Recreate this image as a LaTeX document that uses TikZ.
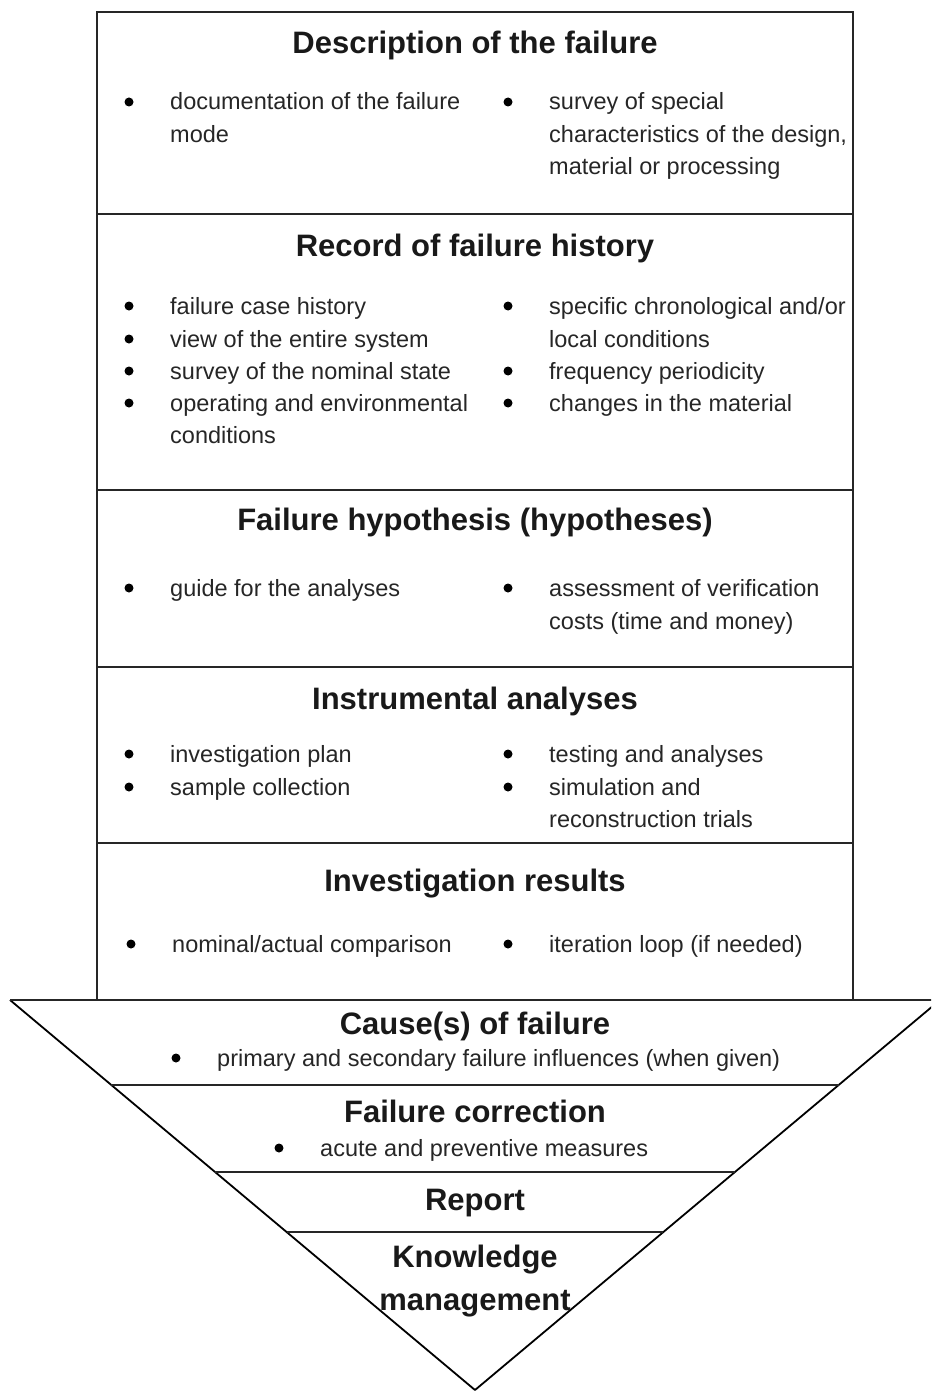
\documentclass[tikz,border=0pt]{standalone}
\usepackage{fontspec}
\setmainfont{Liberation Sans}
\usetikzlibrary{calc}

% bullet line: #1 name, #2 x, #3 baseline y, #4 text
\newcommand\bitem[4]{%
  \node[body] (#1) at (#2,#3) {#4};
  \node[dot] (#1-dot) at ([xshift=-41pt,yshift=8pt]#1.base west) {};}
% continuation line of a bullet item
\newcommand\bcont[4]{\node[body] (#1) at (#2,#3) {#4};}

\begin{document}
\begin{tikzpicture}[x=1pt,y=-1pt,
  frame/.style={line width=2.8pt, draw=black!85},
  funnel/.style={line width=1.8pt, draw=black, line join=round},
  title/.style={font=\fontsize{31}{36}\selectfont\bfseries, anchor=base, inner sep=0, text=black!90},
  body/.style={font=\fontsize{23.5}{32}\selectfont, anchor=base west, inner sep=0, text=black!85},
  dot/.style={circle, fill=black, inner sep=0, minimum size=9pt},
]
\useasboundingbox (0,0) rectangle (931,1391);
\clip (0,0) rectangle (931,1391);

% ---------- upper box ----------
\draw[frame] (97,12) rectangle (853,1000);
\foreach \yy in {214,490,667,843} \draw[frame] (97,\yy) -- (853,\yy);

% Description of the failure
\node[title] (t1) at (475,54) {Description of the failure};
\bitem{d1}{170}{110}{documentation of the failure}
\bcont{d1b}{170}{143}{mode}
\bitem{d2}{549}{110}{survey of special}
\bcont{d2b}{549}{143}{characteristics of the design,}
\bcont{d2c}{549}{175}{material or processing}

% Record of failure history
\node[title] (t2) at (475,256) {Record of failure history};
\bitem{r1}{170}{314}{failure case history}
\bitem{r2}{170}{347}{view of the entire system}
\bitem{r3}{170}{379}{survey of the nominal state}
\bitem{r4}{170}{411}{operating and environmental}
\bcont{r4b}{170}{443}{conditions}
\bitem{r5}{549}{314}{specific chronological and/or}
\bcont{r5b}{549}{347}{local conditions}
\bitem{r6}{549}{379}{frequency periodicity}
\bitem{r7}{549}{411}{changes in the material}

% Failure hypothesis
\node[title] (t3) at (475,530) {Failure hypothesis (hypotheses)};
\bitem{h1}{170}{596}{guide for the analyses}
\bitem{h2}{549}{596}{assessment of verification}
\bcont{h2b}{549}{629}{costs (time and money)}

% Instrumental analyses
\node[title] (t4) at (475,709) {Instrumental analyses};
\bitem{i1}{170}{762}{investigation plan}
\bitem{i2}{170}{795}{sample collection}
\bitem{i3}{549}{762}{testing and analyses}
\bitem{i4}{549}{795}{simulation and}
\bcont{i4b}{549}{827}{reconstruction trials}

% Investigation results
\node[title] (t5) at (475,891) {Investigation results};
\bitem{v1}{172}{952}{nominal/actual comparison}
\bitem{v2}{549}{952}{iteration loop (if needed)}

% ---------- funnel ----------
\coordinate (tl) at (10,1000);
\coordinate (tr) at (940,1000);
\coordinate (apex) at (475,1390);
\draw[funnel] (tl) -- (apex) -- (tr);
\draw[frame] (tl) -- (tr);
\foreach \t in {0.218,0.441,0.595}
  \draw[frame] ($(tl)!\t!(apex)$) -- ($(tr)!\t!(apex)$);

\node[title] (t6) at (475,1034) {Cause(s) of failure};
\bitem{c1}{217}{1066}{primary and secondary failure influences (when given)}
\node[title] (t7) at (475,1122) {Failure correction};
\bitem{f1}{320}{1156}{acute and preventive measures}
\node[title] (t8) at (475,1210) {Report};
\node[title] (t9) at (475,1267) {Knowledge};
\node[title] (t9b) at (475,1310) {management};
\end{tikzpicture}
\end{document}
